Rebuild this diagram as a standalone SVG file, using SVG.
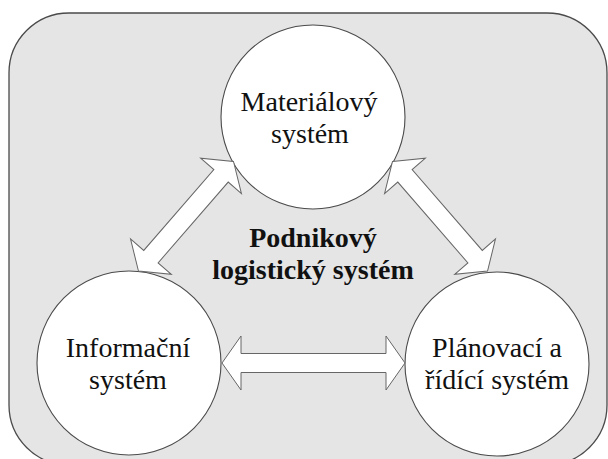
<svg xmlns="http://www.w3.org/2000/svg" width="608" height="459" viewBox="0 0 608 459">
<style>
.bg{fill:#e5e5e5;stroke:#4a4a4a;stroke-width:1.3}
.node{fill:#ffffff;stroke:#4a4a4a;stroke-width:1.1}
.arr{fill:#ffffff;stroke:#666666;stroke-width:1}
.t{font-family:"Liberation Serif","Times New Roman",serif;font-size:28px;fill:#111111;text-anchor:middle}
.b{font-weight:bold}
</style>
<defs>
<polygon id="dbl145" points="0,0 19,-27 19,-9.5 126,-9.5 126,-27 145,0 126,27 126,9.5 19,9.5 19,27"/>
</defs>
<rect class="bg" x="9" y="13" width="598" height="452" rx="60" ry="60"/>
<g id="system-label">
<text class="t b" x="313" y="247">Podnikový</text>
<text class="t b" x="313" y="279">logistický systém</text>
</g>
<g id="node-material">
<circle class="node" cx="313" cy="117" r="92"/>
<text class="t" x="309" y="111">Materiálový</text>
<text class="t" x="310" y="143">systém</text>
</g>
<g id="node-informacni">
<circle class="node" cx="129" cy="363" r="92"/>
<text class="t" x="128" y="357">Informační</text>
<text class="t" x="128" y="389">systém</text>
</g>
<g id="node-planovaci">
<circle class="node" cx="497" cy="364" r="92"/>
<text class="t" x="497" y="357">Plánovací a</text>
<text class="t" x="497" y="389">řídící systém</text>
</g>
<g id="connectors">
<use class="arr" href="#dbl145" transform="translate(233.5,161.5) rotate(130.95)"/>
<use class="arr" href="#dbl145" transform="translate(392.5,161.5) rotate(49.05)"/>
<polygon class="arr" transform="translate(222,363)" points="0,0 19,-27 19,-9.5 164,-9.5 164,-27 183,0 164,27 164,9.5 19,9.5 19,27"/>
</g>
</svg>
